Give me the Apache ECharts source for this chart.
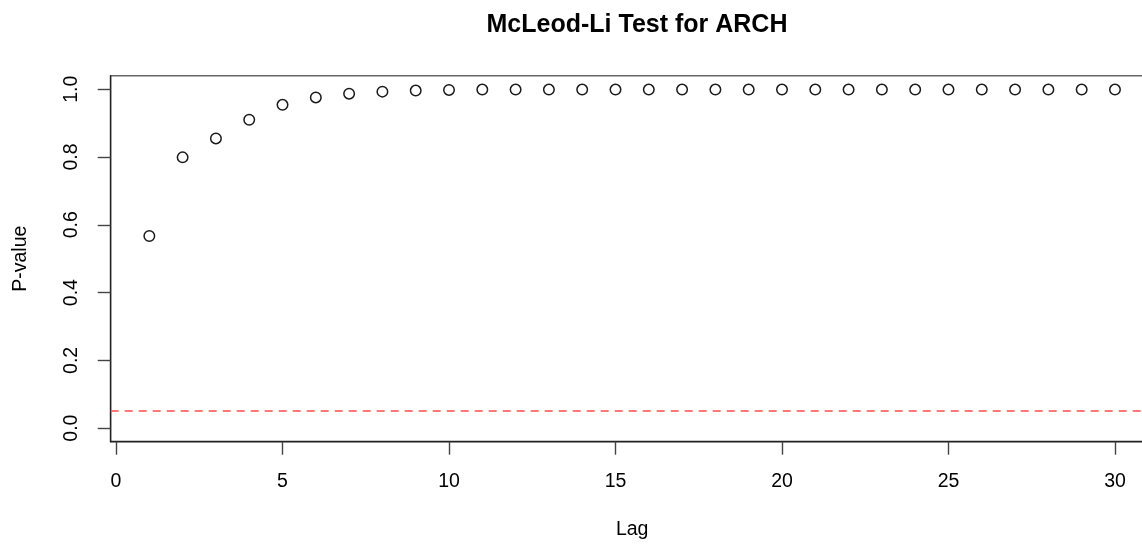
<!DOCTYPE html>
<html>
<head>
<meta charset="utf-8">
<script src="https://cdn.jsdelivr.net/npm/echarts@6/dist/echarts.min.js"></script>
<style>
  html, body { margin: 0; padding: 0; background: #ffffff; }
  #chart { width: 1142px; height: 545px; }
</style>
</head>
<body>
<div id="chart"></div>
<script>
// McLeod-Li test p-values by lag
const lags = [1,2,3,4,5,6,7,8,9,10,11,12,13,14,15,16,17,18,19,20,21,22,23,24,25,26,27,28,29,30];
const pValues = [0.567,0.799,0.855,0.910,0.954,0.976,0.987,0.993,0.996,0.998,0.999,0.999,0.999,0.999,0.999,
                 0.999,0.999,0.999,0.999,0.999,0.999,0.999,0.999,0.999,0.999,0.999,0.999,0.999,0.999,0.999];
const xTicks = [0,5,10,15,20,25,30];
const yTicks = [0,0.2,0.4,0.6,0.8,1.0];
const significance = 0.05;

const FONT = '"Liberation Sans", Arial, Helvetica, sans-serif';
const SIG_COLOR = '#ff4d4d';

const chart = echarts.init(document.getElementById('chart'), null, { renderer: 'canvas' });

chart.setOption({
  animation: false,
  backgroundColor: '#ffffff',
  title: {
    text: 'McLeod-Li Test for ARCH',
    left: 632,
    top: 8,
    textAlign: 'center',
    textStyle: { fontFamily: FONT, fontSize: 25, fontWeight: 'bold', color: '#000' }
  },
  grid: {
    left: 110.7,
    top: 75.7,
    width: 1042.9,
    height: 366,
    outerBoundsMode: 'none',
    containLabel: false,
    show: true,
    borderColor: '#666',
    borderWidth: 1.4,
    backgroundColor: 'transparent'
  },
  xAxis: {
    type: 'value',
    min: -0.16,
    max: 31.16,
    name: 'Lag',
    nameLocation: 'middle',
    nameGap: 78,
    nameTextStyle: { fontFamily: FONT, fontSize: 19.5, color: '#000' },
    axisLine: { show: true, onZero: false, lineStyle: { color: '#222', width: 1.4 } },
    axisTick: { show: true, inside: false, length: 13, customValues: xTicks, lineStyle: { color: '#444', width: 1.4 } },
    axisLabel: { customValues: xTicks, margin: 30, fontFamily: FONT, fontSize: 19.5, color: '#000' },
    splitLine: { show: false }
  },
  yAxis: {
    type: 'value',
    min: -0.04,
    max: 1.04,
    name: 'P-value',
    nameLocation: 'middle',
    nameRotate: 90,
    nameGap: 80,
    nameTextStyle: { fontFamily: FONT, fontSize: 19.5, color: '#000' },
    axisLine: { show: true, onZero: false, lineStyle: { color: '#222', width: 1.4 } },
    axisTick: { show: true, inside: false, length: 13, customValues: yTicks, lineStyle: { color: '#444', width: 1.4 } },
    axisLabel: {
      customValues: yTicks,
      rotate: 90,
      margin: 29,
      fontFamily: FONT,
      fontSize: 19.5,
      color: '#000',
      formatter: v => v.toFixed(1)
    },
    splitLine: { show: false }
  },
  series: [
    {
      name: 'P-value',
      type: 'scatter',
      data: lags.map((l, i) => [l, pValues[i]]),
      symbol: 'circle',
      symbolSize: 10.5,
      clip: false,
      itemStyle: { color: 'rgba(255,255,255,0)', borderColor: '#1a1a1a', borderWidth: 1.5, opacity: 1 },
      z: 5
    },
    {
      name: 'Significance',
      type: 'line',
      color: SIG_COLOR,
      data: [],
      markLine: {
        silent: true,
        symbol: ['none', 'none'],
        label: { show: false },
        lineStyle: { color: SIG_COLOR, width: 1.5, type: [8, 6], opacity: 1 },
        emphasis: { disabled: true },
        data: [{ yAxis: significance, lineStyle: { color: SIG_COLOR } }]
      }
    }
  ]
});
</script>
</body>
</html>
